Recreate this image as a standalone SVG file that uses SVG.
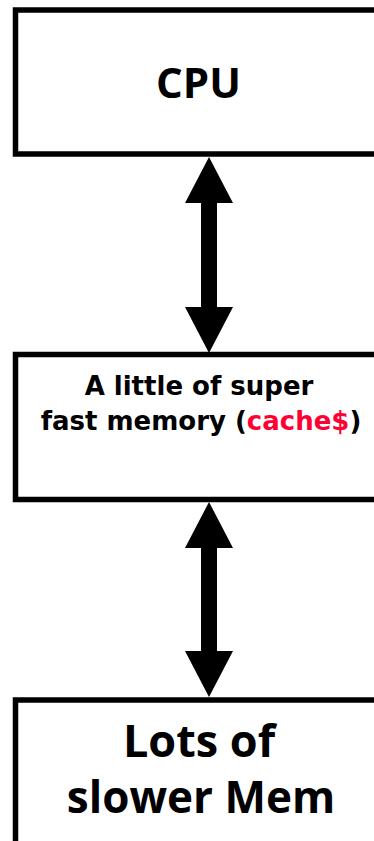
<svg xmlns="http://www.w3.org/2000/svg" width="374" height="841" viewBox="0 0 374 841">
  <style>
    .box { fill: #ffffff; stroke: #000000; stroke-width: 5.5; }
    .big { font-family: "Open Sans", "DejaVu Sans", sans-serif; font-weight: bold; fill: #000000; text-anchor: middle; }
    .small { font-family: "DejaVu Sans", "Open Sans", sans-serif; font-weight: bold; fill: #000000; text-anchor: middle; font-size: 26px; }
    .hot { fill: #ff0033; }
    .arrow { fill: #000000; stroke: none; }
  </style>
  <rect width="374" height="841" fill="#ffffff"/>

  <g id="cpu">
    <rect class="box" x="15.5" y="10" width="380" height="144"/>
    <text class="big" x="198.5" y="98" font-size="42">CPU</text>
  </g>

  <g id="cache">
    <rect class="box" x="15.5" y="354.5" width="380" height="145"/>
    <text class="small" x="199" y="395">A little of super</text>
    <text class="small" x="201" y="430">fast memory (<tspan class="hot">cache$</tspan>)</text>
  </g>

  <g id="memory">
    <rect class="box" x="15.5" y="700" width="380" height="200"/>
    <text class="big" x="199" y="757" font-size="45">Lots of</text>
    <text class="big" x="201" y="813" font-size="44">slower Mem</text>
  </g>

  <g id="connectors">
    <!-- CPU <-> cache -->
    <path class="arrow" d="M209 157 L233 203 L217 203 L217 307 L233 307 L209 353 L185 307 L201 307 L201 203 L185 203 Z"/>
    <!-- cache <-> memory -->
    <path class="arrow" d="M209 502 L233 548 L217 548 L217 651 L233 651 L209 697 L185 651 L201 651 L201 548 L185 548 Z"/>
  </g>
</svg>
